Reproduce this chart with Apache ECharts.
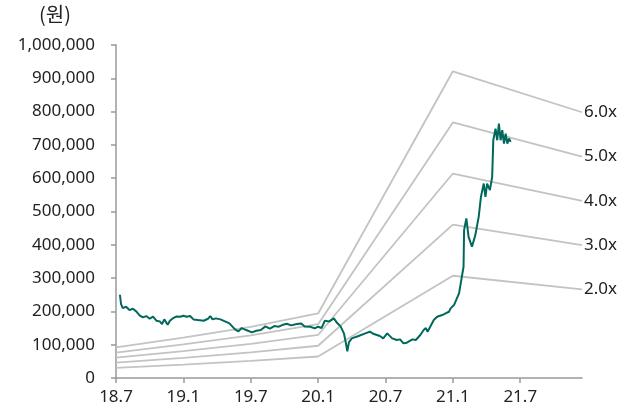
<!DOCTYPE html>
<html>
<head>
<meta charset="utf-8">
<script src="https://cdn.jsdelivr.net/npm/echarts@6/dist/echarts.min.js"></script>
<style>html,body{margin:0;padding:0;background:#fff;}#c{width:636px;height:414px;}</style>
</head>
<body>
<div id="c"></div>
<script>
// x positions are months elapsed since July 2018 (0 = 18.7, 6 = 19.1, ...)
const tickMonths = [0, 6, 12, 18, 24, 30, 36];
const tickLabels = ['18.7', '19.1', '19.7', '20.1', '20.7', '21.1', '21.7'];

// forward EPS (thousand won) behind the PER bands
const epsMonths = [0, 6, 12, 18, 30, 41.5];
const epsValues = [15.3, 20.2, 25.6, 32.3, 153.5, 133.0];
const multiples = [2, 3, 4, 5, 6];

// share price (thousand won)
const priceMonths = [0.35, 0.45, 0.6, 0.9, 1.2, 1.5, 1.8, 2.1, 2.4, 2.7, 3.0, 3.3, 3.6, 3.9, 4.1, 4.3, 4.6, 4.8, 5.1, 5.4,
  5.7, 6.0, 6.3, 6.6, 6.9, 7.3, 7.8, 8.2, 8.4, 8.6, 8.9, 9.3, 9.7, 10.1, 10.6, 10.9, 11.2, 11.6, 12.1, 12.5,
  12.9, 13.3, 13.7, 14.1, 14.5, 14.8, 15.2, 15.6, 16.1, 16.5, 16.8, 17.3, 17.7, 18.0, 18.3, 18.6, 19.0, 19.4, 19.7, 20.0,
  20.3, 20.45, 20.6, 20.75, 21.0, 21.6, 22.2, 22.6, 22.9, 23.5, 23.8, 24.15, 24.6, 25.0, 25.3, 25.6, 25.9, 26.4, 26.7, 27.1,
  27.4, 27.6, 27.75, 28.3, 28.6, 29.05, 29.35, 29.65, 29.8, 29.95, 30.1, 30.25, 30.55, 30.7, 30.8, 30.95, 31.0, 31.2, 31.4, 31.7,
  32.0, 32.3, 32.5, 32.75, 32.9, 33.05, 33.3, 33.5, 33.6, 33.8, 33.95, 34.1, 34.25, 34.4, 34.55, 34.7, 34.85, 35.0, 35.15];
const priceValues = [250, 222, 210, 214, 204, 208, 200, 188, 182, 186, 178, 184, 172, 170, 162, 176, 160, 172, 180, 185,
  184, 187, 184, 186, 176, 174, 172, 178, 186, 176, 179, 176, 170, 164, 146, 140, 150, 144, 137, 142,
  144, 155, 148, 156, 154, 159, 163, 158, 162, 164, 155, 154, 149, 154, 150, 172, 170, 179, 165, 155,
  134, 109, 80, 108, 119, 126, 134, 139, 133, 126, 119, 134, 119, 114, 116, 104, 106, 116, 114, 129,
  144, 150, 139, 174, 184, 189, 194, 199, 209, 204, 219, 214, 254, 284, 304, 334, 444, 479, 424, 394,
  429, 484, 544, 584, 544, 584, 564, 604, 714, 749, 714, 764, 714, 744, 704, 734, 704, 719, 709];

const FONT = '"Noto Sans", "Noto Sans CJK KR", sans-serif';
const TXT = '#222';
const FS = 17;

const bandSeries = multiples.map(m => ({
  type: 'line',
  name: m.toFixed(1) + 'x',
  data: epsMonths.map((x, i) => [x, epsValues[i] * m * 1000]),
  symbol: 'none',
  silent: true,
  lineStyle: { color: '#c3c3c3', width: 1.8 },
  z: 2,
  endLabel: {
    show: true,
    formatter: m.toFixed(1) + 'x',
    color: TXT,
    fontFamily: FONT,
    fontSize: FS,
    distance: 2
  }
}));

const priceSeries = {
  type: 'line',
  name: 'price',
  data: priceMonths.map((x, i) => [x, priceValues[i] * 1000]),
  symbol: 'none',
  lineStyle: { color: '#00695c', width: 2 },
  z: 5
};

const chart = echarts.init(document.getElementById('c'), null, { renderer: 'canvas' });
chart.setOption({
  animation: false,
  backgroundColor: '#fff',
  grid: { left: 116, right: 54, top: 45, bottom: 36, containLabel: false },
  xAxis: {
    type: 'value',
    min: 0,
    max: 41.5,
    interval: 6,
    axisLine: { show: true, lineStyle: { color: '#999', width: 1.5 } },
    axisTick: { show: true, length: 5, lineStyle: { color: '#999', width: 1.5 }, customValues: tickMonths },
    axisLabel: {
      color: TXT, fontFamily: FONT, fontSize: FS, margin: 11,
      customValues: tickMonths,
      formatter: v => { const i = tickMonths.indexOf(Math.round(v)); return i >= 0 ? tickLabels[i] : ''; }
    },
    splitLine: { show: false }
  },
  yAxis: {
    type: 'value',
    min: 0,
    max: 1000000,
    interval: 100000,
    axisLine: { show: true, lineStyle: { color: '#999', width: 1.5 } },
    axisTick: { show: true, length: 5, lineStyle: { color: '#999', width: 1.5 } },
    axisLabel: {
      color: TXT, fontFamily: FONT, fontSize: FS, margin: 21,
      formatter: v => v.toString().replace(/\B(?=(\d{3})+(?!\d))/g, ',')
    },
    splitLine: { show: false }
  },
  graphic: [{
    type: 'text',
    left: 39,
    top: 4,
    style: { text: '(원)', fill: TXT, font: '20px "Noto Sans CJK KR", sans-serif' }
  }],
  series: [...bandSeries, priceSeries]
});
</script>
</body>
</html>
